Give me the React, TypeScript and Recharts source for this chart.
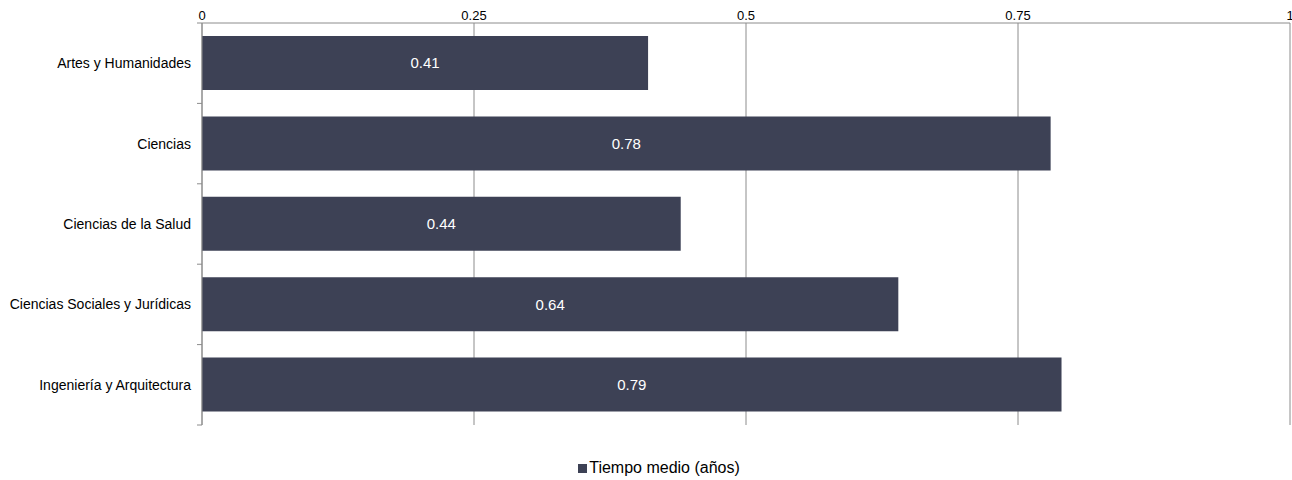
import React from 'react';
import { BarChart, Bar, XAxis, YAxis, CartesianGrid, Legend, LabelList } from 'recharts';

const categories = [
  'Artes y Humanidades',
  'Ciencias',
  'Ciencias de la Salud',
  'Ciencias Sociales y Jurídicas',
  'Ingeniería y Arquitectura',
];
const tiempoMedio = [0.41, 0.78, 0.44, 0.64, 0.79];
const xTicks = [0, 0.25, 0.5, 0.75, 1];
const seriesName = 'Tiempo medio (años)';

const data = categories.map((c, i) => ({ name: c, value: tiempoMedio[i] }));

const FONT = 'Arial, "Liberation Sans", Helvetica, sans-serif';
const AXIS = '#8c8c8c';
const BAR = '#3d4155';

const CategoryTick = (props: any) => {
  const { x, y, payload } = props;
  const half = 40.2;
  return (
    <g>
      <text x={x - 3} y={y} dy={5} textAnchor="end" fill="#000" fontSize={14} fontFamily={FONT}>
        {payload.value}
      </text>
      <line x1={x + 3} x2={x + 8} y1={y + half} y2={y + half} stroke={AXIS} strokeWidth={1} />
      {payload.index === 0 ? (
        <line x1={x + 3} x2={x + 8} y1={y - half} y2={y - half} stroke={AXIS} strokeWidth={1} />
      ) : null}
    </g>
  );
};

const LegendContent = () => (
  <div style={{ textAlign: 'center', fontFamily: FONT, fontSize: 16, color: '#000', lineHeight: '20px', paddingLeft: 28 }}>
    <span style={{ display: 'inline-block', width: 9, height: 9, background: BAR, marginRight: 2, verticalAlign: 'baseline' }} />
    <span>{seriesName}</span>
  </div>
);

const formatX = (v: number) => String(v);

export default function App() {
  return (
    <div style={{ position: 'absolute', left: 0, top: 0, width: 1292, height: 480, background: '#fff' }}>
      <BarChart
        width={1292}
        height={480}
        data={data}
        layout="vertical"
        margin={{ top: 3, right: 2, bottom: 30, left: 0 }}
        barCategoryGap={13}
      >
        <CartesianGrid horizontal={false} vertical={true} stroke={AXIS} strokeWidth={1} />
        <XAxis
          type="number"
          orientation="top"
          domain={[0, 1]}
          ticks={xTicks}
          tickFormatter={formatX}
          height={20}
          axisLine={{ stroke: AXIS, strokeWidth: 1 }}
          tickLine={false}
          tickSize={1}
          tick={{ fill: '#000', fontSize: 13, fontFamily: FONT }}
          interval={0}
        />
        <YAxis
          type="category"
          dataKey="name"
          width={202}
          axisLine={{ stroke: AXIS, strokeWidth: 1 }}
          tickLine={false}
          tick={<CategoryTick />}
          interval={0}
        />
        <Legend
          verticalAlign="bottom"
          align="center"
          height={25}
          content={<LegendContent />}
          wrapperStyle={{ top: 458, bottom: 'auto' }}
        />
        <Bar dataKey="value" name={seriesName} fill={BAR} isAnimationActive={false}>
          <LabelList dataKey="value" position="center" fill="#fff" fontSize={15} fontFamily={FONT} />
        </Bar>
      </BarChart>
    </div>
  );
}
